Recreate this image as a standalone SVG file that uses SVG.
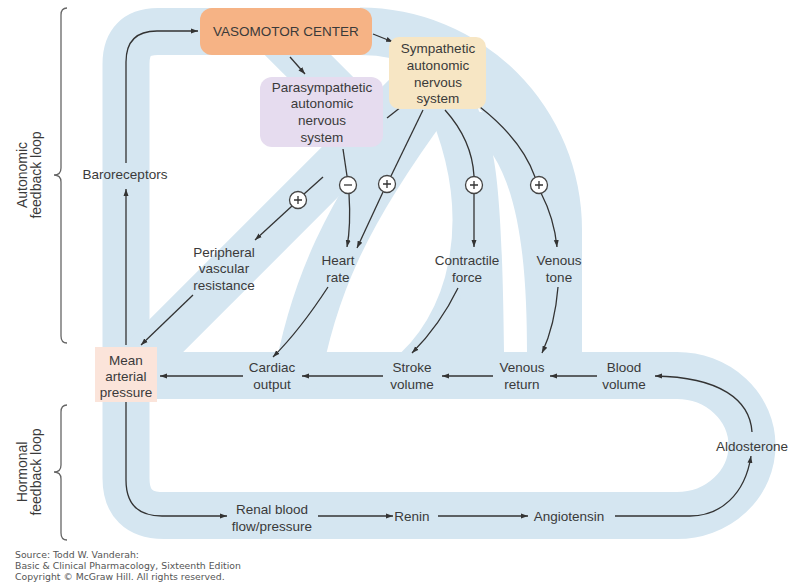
<svg xmlns="http://www.w3.org/2000/svg" width="793" height="582" viewBox="0 0 793 582">
<defs>
<style>
.band{fill:none;stroke:#d5e6f1;stroke-width:47}
.bandf{fill:#d5e6f1}
.t{font-family:"Liberation Sans",Arial,sans-serif;font-size:13.5px;fill:#3a3a3a;text-anchor:middle}
.side{font-family:"Liberation Sans",Arial,sans-serif;font-size:14px;fill:#3a3a3a;text-anchor:middle}
.src{font-family:"DejaVu Sans",sans-serif;font-size:9.3px;fill:#555}
.c{fill:none;stroke:#333;stroke-width:1.3}
.a{marker-end:url(#ah)}
.brace{fill:none;stroke:#666;stroke-width:1.3}
.circ{fill:#fff;stroke:#444;stroke-width:1.3}
</style>
<marker id="ah" markerWidth="8" markerHeight="6" refX="7" refY="3" orient="auto" markerUnits="userSpaceOnUse">
<path d="M0,0.5 L7,3 L0,5.5 z" fill="#333"/>
</marker>
</defs>
<rect width="793" height="582" fill="#fff"/>

<g id="bands">
<path class="band" d="M360,31.5 L158,31.5 Q126,31.5 126,64 L126,478 Q126,515.5 164,515.5 L677,515.5 A75 70 0 0 0 677,375.5 L126,375.5"/>
<path class="bandf" d="M360,7.5 A222 222 0 0 1 582,229.5 L582,380 L528,380 L528,235 A168 180 0 0 0 360,55 Z"/>
<path class="band" d="M130,372 L420,82"/>
<path class="band" d="M268,25 L385,142"/>
<path class="band" d="M296,385 C312,290 345,215 430,100"/>
<path class="band" d="M405,380 C470,330 505,220 445,90"/>
<path class="bandf" d="M440,360 L535,360 L535,170 L500,115 L468,110 L478,200 L460,300 Z"/>
<path fill="#fff" d="M493,155 C500,190 503,260 504,352 L527,352 C527,280 522,200 493,155 Z"/>
</g>

<g id="braces">
<path class="brace" d="M67,8 Q61,8 61,15 L61,168 Q61,175 54,175 Q61,175 61,182 L61,336 Q61,343 67,343"/>
<path class="brace" d="M67,405 Q61,405 61,412 L61,465 Q61,472 54,472 Q61,472 61,479 L61,533 Q61,540 67,540"/>
<text class="side" transform="translate(27,175) rotate(-90)">Autonomic</text>
<text class="side" transform="translate(41,175) rotate(-90)">feedback loop</text>
<text class="side" transform="translate(27,472) rotate(-90)">Hormonal</text>
<text class="side" transform="translate(41,472) rotate(-90)">feedback loop</text>
</g>

<g id="connectors">
<path class="c a" d="M126,345 L126,189"/>
<path class="c a" d="M126,163 L126,62 Q126,31 157,31 L198,31"/>
<path class="c a" d="M373,34 L393,42"/>
<path class="c a" d="M290,57 L305,74"/>
<path class="c" d="M343,149 L347,176"/>
<path class="c a" d="M349,194 Q351,225 347,247"/>
<path class="c" d="M401,107 L387,118"/>
<path class="c" d="M323,177 L304,194"/>
<path class="c a" d="M292,206 L255,240"/>
<path class="c" d="M423,110 L391,176"/>
<path class="c a" d="M383,192 L357,248"/>
<path class="c" d="M445,110 Q472,140 474,176"/>
<path class="c a" d="M474,194 L474,247"/>
<path class="c" d="M480,107 Q522,140 535,177"/>
<path class="c a" d="M541,193 Q554,218 557,247"/>
<path class="c a" d="M193,295 L141,345"/>
<path class="c a" d="M328,287 Q300,330 273,357"/>
<path class="c a" d="M458,288 Q440,325 412,353"/>
<path class="c a" d="M558,287 Q555,325 542,353"/>
<path class="c a" d="M597,376 L550,376"/>
<path class="c a" d="M493,376 L442,376"/>
<path class="c a" d="M383,376 L302,376"/>
<path class="c a" d="M243,376 L160,376"/>
<path class="c a" d="M752,432 C750,400 720,377 655,376"/>
<path class="c a" d="M126,402 L126,480 Q126,516 162,516 L227,516"/>
<path class="c a" d="M318,516 L393,516"/>
<path class="c a" d="M438,516 L528,516"/>
<path class="c a" d="M615,516 L690,516 C720,516 745,495 751,456"/>
</g>

<g id="signs">
<circle class="circ" cx="298" cy="200" r="8.5"/><path class="c" d="M294,200 h8 M298,196 v8"/>
<circle class="circ" cx="348" cy="185" r="8.5"/><path class="c" d="M344,185 h8"/>
<circle class="circ" cx="387" cy="184" r="8.5"/><path class="c" d="M383,184 h8 M387,180 v8"/>
<circle class="circ" cx="474" cy="185" r="8.5"/><path class="c" d="M470,185 h8 M474,181 v8"/>
<circle class="circ" cx="539" cy="185" r="8.5"/><path class="c" d="M535,185 h8 M539,181 v8"/>
</g>

<g id="vasomotor">
<rect x="200" y="8" width="172" height="47" rx="12" fill="#f6b385"/>
<text class="t" x="286" y="36">VASOMOTOR CENTER</text>
</g>
<g id="parasympathetic">
<rect x="260" y="77" width="123" height="70" rx="12" fill="#e6dcef"/>
<text class="t" x="322" y="92">Parasympathetic</text>
<text class="t" x="322" y="108">autonomic</text>
<text class="t" x="322" y="125">nervous</text>
<text class="t" x="322" y="142">system</text>
</g>
<g id="sympathetic">
<rect x="389" y="37" width="97" height="72" rx="10" fill="#f7e6c4"/>
<text class="t" x="438" y="53">Sympathetic</text>
<text class="t" x="438" y="70">autonomic</text>
<text class="t" x="438" y="87">nervous</text>
<text class="t" x="438" y="103">system</text>
</g>
<g id="baroreceptors"><text class="t" x="125" y="179">Baroreceptors</text></g>
<g id="map">
<rect x="95" y="347" width="62" height="55" fill="#fbe4da"/>
<text class="t" x="126" y="365">Mean</text>
<text class="t" x="126" y="381">arterial</text>
<text class="t" x="126" y="397">pressure</text>
</g>
<g id="pvr">
<text class="t" x="224" y="257">Peripheral</text>
<text class="t" x="224" y="273">vascular</text>
<text class="t" x="224" y="290">resistance</text>
</g>
<g id="heartrate"><text class="t" x="338" y="265">Heart</text><text class="t" x="338" y="282">rate</text></g>
<g id="contractile"><text class="t" x="467" y="265">Contractile</text><text class="t" x="467" y="282">force</text></g>
<g id="venoustone"><text class="t" x="559" y="265">Venous</text><text class="t" x="559" y="282">tone</text></g>
<g id="cardiac"><text class="t" x="272" y="372">Cardiac</text><text class="t" x="272" y="389">output</text></g>
<g id="stroke"><text class="t" x="412" y="372">Stroke</text><text class="t" x="412" y="389">volume</text></g>
<g id="venousreturn"><text class="t" x="522" y="372">Venous</text><text class="t" x="522" y="389">return</text></g>
<g id="bloodvolume"><text class="t" x="624" y="372">Blood</text><text class="t" x="624" y="389">volume</text></g>
<g id="aldosterone"><text class="t" x="752" y="451">Aldosterone</text></g>
<g id="renal"><text class="t" x="272" y="514">Renal blood</text><text class="t" x="272" y="531">flow/pressure</text></g>
<g id="renin"><text class="t" x="412" y="521">Renin</text></g>
<g id="angiotensin"><text class="t" x="569" y="521">Angiotensin</text></g>

<g id="source">
<text class="src" x="15" y="558">Source: Todd W. Vanderah:</text>
<text class="src" x="15" y="569">Basic &amp; Clinical Pharmacology, Sixteenth Edition</text>
<text class="src" x="15" y="580">Copyright © McGraw Hill. All rights reserved.</text>
</g>
</svg>
